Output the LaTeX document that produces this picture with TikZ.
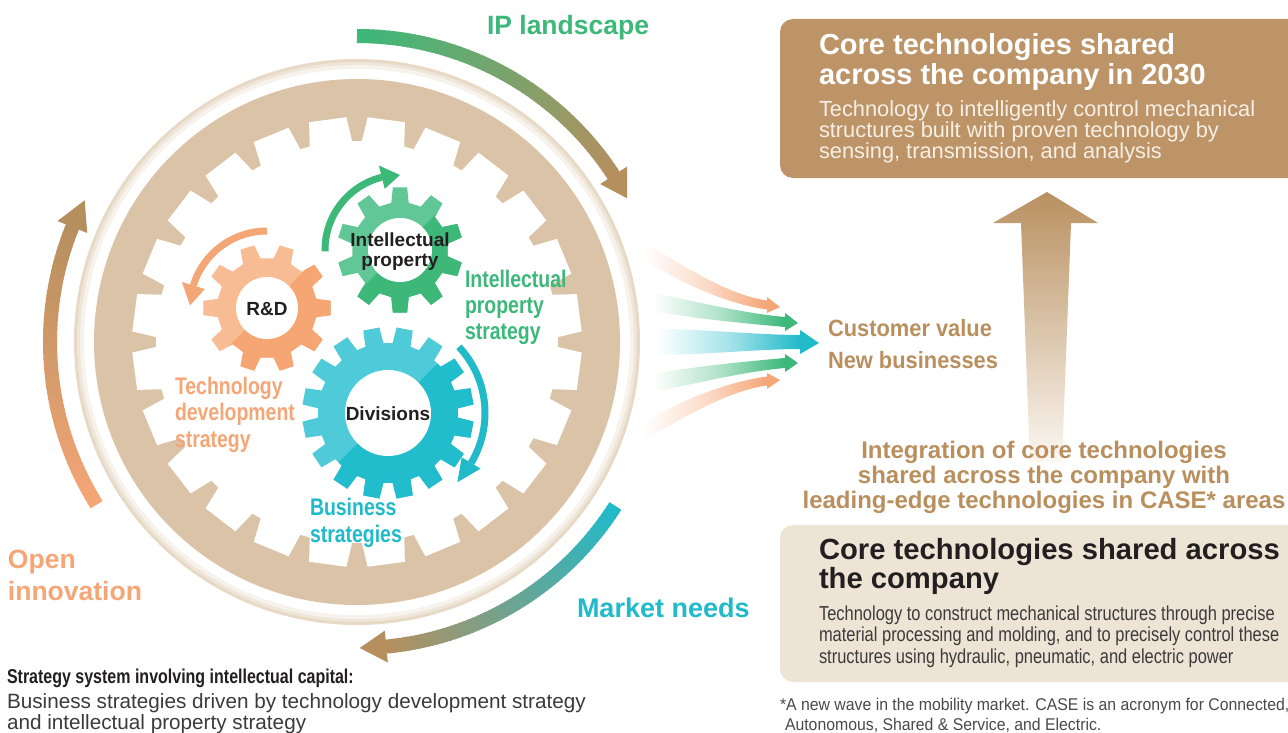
\documentclass[tikz,border=0pt]{standalone}
\usepackage{fontspec}
\setmainfont{Liberation Sans}
\newfontfamily\condA[FakeStretch=0.80]{Liberation Sans}
\newfontfamily\condB[FakeStretch=0.81]{Liberation Sans}
\newfontfamily\condC[FakeStretch=0.93]{Liberation Sans}
\newfontfamily\condD[FakeStretch=0.815]{Liberation Sans}
\usetikzlibrary{calc}

\definecolor{discbeige}{HTML}{DAC3A6}
\definecolor{ringA}{HTML}{E7D9C6}
\definecolor{ringB}{HTML}{EFE6DA}
\definecolor{ringC}{HTML}{F7F2EB}
\definecolor{boxbrown}{HTML}{BC9467}
\definecolor{boxlight}{HTML}{EEE4D6}
\definecolor{txtbrown}{HTML}{B98F5E}
\definecolor{topsub}{HTML}{F7EFE5}
\definecolor{ipgreen}{HTML}{3CB879}
\definecolor{ocorange}{HTML}{F5A677}
\definecolor{mnteal}{HTML}{20BAC9}
\definecolor{arcbrown}{HTML}{B68F5F}
\definecolor{greenL}{HTML}{61C796}
\definecolor{greenD}{HTML}{3DB879}
\definecolor{orangeL}{HTML}{F8BC94}
\definecolor{orangeD}{HTML}{F6A673}
\definecolor{tealL}{HTML}{4FCAD9}
\definecolor{tealD}{HTML}{21BDCD}
\definecolor{darktext}{HTML}{231F20}
\definecolor{bodytext}{HTML}{3B3B3B}
\definecolor{foottext}{HTML}{4A4A4A}
\definecolor{arrowtop}{HTML}{B99060}
\definecolor{arrowfoot}{HTML}{FBF7F2}

% gear outline: teeth, root radius, tip radius, half width at root, half width at tip, angle of first tooth
\newcommand{\gearoutline}[6]{({#6-#4}:#2) \foreach \k in {1,...,#1}{ -- ({#6+(\k-1)*360/#1-#4}:#2) -- ({#6+(\k-1)*360/#1-#5}:#3) -- ({#6+(\k-1)*360/#1+#5}:#3) -- ({#6+(\k-1)*360/#1+#4}:#2)} -- cycle}

% two-tone gear: centre, light, dark, teeth, root r, tip r, root hw, tip hw, offset
\newcommand{\drawgear}[9]{%
  \begin{scope}[shift={#1}]
    \fill[#2] \gearoutline{#4}{#5}{#6}{#7}{#8}{#9};
    \begin{scope}
      \clip (-130,-130) -- (130,130) -- (130,-130) -- cycle;
      \fill[#3] \gearoutline{#4}{#5}{#6}{#7}{#8}{#9};
    \end{scope}
  \end{scope}}

% arc whose colour runs from one colour to another: start, end, radius, from, to, width, steps
\newcommand{\gradarc}[7]{%
  \foreach \i in {1,...,#7}{%
    \pgfmathsetmacro\gaA{#1+(\i-1)*(#2-#1)/#7}%
    \pgfmathsetmacro\gaB{#1+(\i+0.35)*(#2-#1)/#7}%
    \pgfmathtruncatemacro\gaP{100*(\i-1)/(#7-1)}%
    \draw[line width=#6, #5!\gaP!#4] (\gaA:#3) arc[start angle=\gaA, end angle=\gaB, radius=#3];
  }}

% fading arrow: colour, start, ctrl1, ctrl2, end, half width start, half width end, tip, head half width
\newcommand{\fanarrow}[9]{%
  \shade[left color=white, right color=#1, middle color=#1!40]
    ($#2+(0,#6)$) .. controls ($#3+(0,#6)$) and ($#4+(0,#7)$) .. ($#5+(0,#7)$)
    -- ($#5-(0,#7)$) .. controls ($#4-(0,#7)$) and ($#3-(0,#6)$) .. ($#2-(0,#6)$) -- cycle;
  \fill[#1] ($#5+(0,#9)$) -- #8 -- ($#5-(0,#9)$) -- cycle;}

\begin{document}
\begin{tikzpicture}[x=1pt,y=1pt,
  lbl/.style={inner sep=0pt, outer sep=0pt, align=left, anchor=base west},
  gearlbl/.style={inner sep=0pt, outer sep=0pt, align=center, text=darktext, font=\fontsize{19}{20}\bfseries},
]
\useasboundingbox (0,0) rectangle (1288,-733);
\clip (0,0) rectangle (1288,-733);
\fill[white] (0,0) rectangle (1288,-733);

% ---------- the large wheel ----------
\coordinate (hub) at (357,-342);
\begin{scope}[shift={(hub)}]
  \fill[ringA] (0,0) circle[radius=283];
  \fill[ringB] (0,0) circle[radius=280];
  \fill[ringC] (0,0) circle[radius=277];
  \fill[white] (0,0) circle[radius=273];
  \fill[discbeige] (0,0) circle[radius=263];
  \fill[white] \gearoutline{24}{201}{225}{6.1}{4.8}{7.5};

  % arrows running round the wheel
  \gradarc{90}{33}{306}{ipgreen}{arcbrown}{14pt}{60}
  \fill[arcbrown] (33:290) -- (28:306) -- (33:322) -- cycle;
  \gradarc{212}{158}{307}{ocorange}{arcbrown}{14pt}{60}
  \fill[arcbrown] (158:291) -- (152.5:307) -- (158:323) -- cycle;
  \gradarc{-32.4}{-84.5}{306}{mnteal}{arcbrown}{14pt}{60}
  \fill[arcbrown] (-84.5:290) -- (-89.5:306) -- (-84.5:322) -- cycle;
\end{scope}

% ---------- small gears ----------
\drawgear{(267,-308)}{orangeL}{orangeD}{10}{50}{64}{10.5}{6.5}{0}
\drawgear{(400,-250)}{greenL}{greenD}{10}{48}{63}{10.5}{6.5}{18}
\drawgear{(388,-413)}{tealL}{tealD}{16}{70}{86}{7.5}{5.5}{11.25}
\fill[white] (267,-308) circle[radius=31];
\fill[white] (400,-250) circle[radius=32];
\fill[white] (388,-413) circle[radius=43];

% rotation arrows of the small gears
\begin{scope}[shift={(400,-250)}]
  \draw[ipgreen, line width=7pt] (181:75) arc[start angle=181, end angle=104, radius=75];
  \fill[ipgreen] (104:63) -- (90:75) -- (104:87) -- cycle;
\end{scope}
\begin{scope}[shift={(267,-308)}]
  \draw[ocorange, line width=7pt] (90:77) arc[start angle=90, end angle=163, radius=77];
  \fill[ocorange] (163:65) -- (178:77) -- (163:89) -- cycle;
\end{scope}
\begin{scope}[shift={(388,-413)}]
  \draw[mnteal, line width=7pt] (43:97) arc[start angle=43, end angle=-31, radius=97];
  \fill[mnteal] (-31:86) -- (-45:98) -- (-31:108) -- cycle;
\end{scope}

% ---------- fan of arrows towards customer value ----------
\fanarrow{ocorange}{(644,-251)}{(684,-276)}{(730,-300)}{(767,-305)}{9}{4.5}{(780,-307)}{8}
\fanarrow{ipgreen}{(653,-302)}{(690,-309)}{(740,-318)}{(785,-322)}{9}{5}{(798,-323)}{9}
\fanarrow{mnteal}{(657,-342)}{(700,-342)}{(760,-342)}{(800,-342)}{13}{7}{(819,-343)}{12}
\fanarrow{ipgreen}{(653,-383)}{(690,-376)}{(740,-367)}{(785,-363)}{9}{5}{(798,-363)}{9}
\fanarrow{ocorange}{(644,-432)}{(684,-407)}{(730,-386)}{(767,-381)}{9}{4.5}{(780,-380)}{8}

% ---------- right-hand panels ----------
\fill[boxbrown, rounded corners=13pt] (780,-19) rectangle (1310,-178);
\fill[boxlight, rounded corners=13pt] (780,-525) rectangle (1310,-682);
\shade[top color=arrowtop, bottom color=arrowfoot]
  (1047,-192) -- (1098,-223) -- (1071,-223) -- (1062,-462) -- (1030,-462) -- (1021,-223) -- (993,-223) -- cycle;

% ---------- labels (a block is placed by the baseline of its last line) ----------
\node[lbl, font=\fontsize{26.5}{32}\bfseries, text=ipgreen] (iplab) at (487,-35) {IP landscape};
\node[lbl, font=\fontsize{26.5}{32}\bfseries, text=ocorange] (oilab) at (8,-600) {Open\\innovation};
\node[lbl, font=\fontsize{27}{32}\bfseries, text=mnteal] (mnlab) at (577,-617) {Market needs};

\node[lbl, font=\condB\fontsize{24}{26}\bfseries, text=ipgreen] (ipstrat) at (465,-339) {Intellectual\\property\\strategy};
\node[lbl, font=\condB\fontsize{24}{26.5}\bfseries, text=ocorange] (tdstrat) at (175,-447) {Technology\\development\\strategy};
\node[lbl, font=\condB\fontsize{24}{27}\bfseries, text=mnteal] (bstrat) at (310,-542) {Business\\strategies};

\node[gearlbl] (iplabel) at (400,-252) {Intellectual\\property};
\node[gearlbl] (rdlabel) at (267,-309) {R\&D};
\node[gearlbl] (divlabel) at (388,-414) {Divisions};

\node[lbl, font=\condC\fontsize{23.5}{32}\bfseries, text=txtbrown] (cvlab) at (828,-368) {Customer value\\New businesses};

\node[lbl, font=\fontsize{29}{30}\bfseries, text=white] (toptitle) at (819,-85) {Core technologies shared\\across the company in 2030};
\node[lbl, font=\fontsize{21.8}{21}\selectfont, text=topsub] (topbody) at (819,-159) {Technology to intelligently control mechanical\\structures built with proven technology by\\sensing, transmission, and analysis};

\node[inner sep=0pt, outer sep=0pt, align=center, anchor=base, font=\fontsize{24}{25}\bfseries, text=txtbrown] (integ) at (1044,-508) {Integration of core technologies\\shared across the company with\\leading-edge technologies in CASE* areas};

\node[lbl, font=\fontsize{29.2}{29}\bfseries, text=darktext] (bottitle) at (819,-588) {Core technologies shared across\\the company};
\node[lbl, font=\condD\fontsize{20.2}{21.5}\selectfont, text=bodytext] (botbody) at (819,-663) {Technology to construct mechanical structures through precise\\material processing and molding, and to precisely control these\\structures using hydraulic, pneumatic, and electric power};

\node[lbl, font=\condC\fontsize{17}{20}\selectfont, text=foottext] (foot) at (780,-730) {*A new wave in the mobility market. CASE is an acronym for Connected,\\\hspace*{5pt}Autonomous, Shared \& Service, and Electric.};

\node[lbl, font=\condA\fontsize{20}{20}\bfseries, text=darktext] (sstitle) at (7,-683) {Strategy system involving intellectual capital:};
\node[lbl, font=\fontsize{20.7}{19}\selectfont, text=bodytext] (ssbody) at (7,-729) {Business strategies driven by technology development strategy\\and intellectual property strategy};
\end{tikzpicture}
\end{document}
